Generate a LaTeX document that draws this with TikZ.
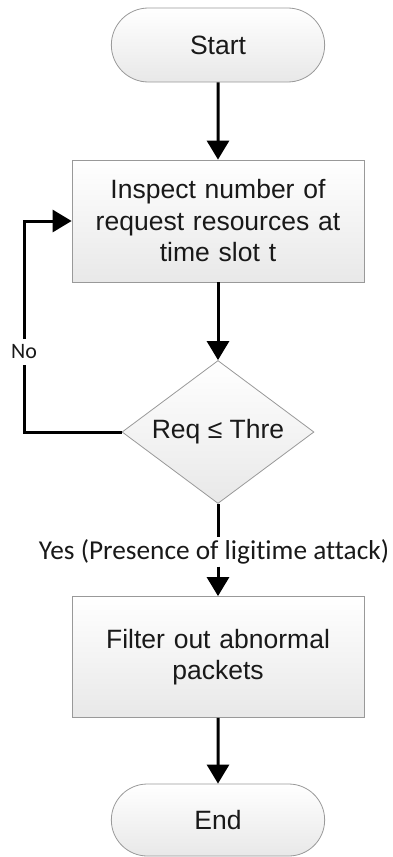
\documentclass[tikz,border=0pt]{standalone}
\usepackage{fontspec}
\setmainfont{Liberation Sans}
\newfontfamily\labelfont[Ligatures=CommonOff]{Carlito}
\usetikzlibrary{positioning}
\usetikzlibrary{shapes.misc}
\usetikzlibrary{shapes.geometric}
\usetikzlibrary{arrows.meta}
\tikzset{
    box/.style = {draw=gray!80, line width=0.8pt, top color=white, bottom color=gray!18, text=black!90,
        font=\fontsize{26.5}{31.5}\selectfont, align=center},
    terminal/.style = {box, rounded rectangle, minimum width=220pt, minimum height=74pt},
    process/.style = {box, rectangle, minimum width=292pt, minimum height=122pt, text width=280pt},
    decision/.style = {box, diamond, aspect=1.34, minimum width=192pt, minimum height=143pt, inner sep=0pt},
    edge/.style = {line width=3pt},
    flow/.style = {edge, -{Triangle[width=22pt,length=19pt]}},
    tag/.style = {text=black!90, inner sep=2pt}}

\begin{document}
\begin{tikzpicture}[x=1pt,y=-1pt]
        \useasboundingbox (0,0) rectangle (392,857);
        \path (218,45) node[terminal] (start) {Start}
        ++ (0,176) node[process] (inspect) {Inspect number of\\request resources at\\time slot t}
        ++ (0,211) node[decision] (check) {Req ≤ Thre}
        ++ (-4,120) node[tag, font=\labelfont\fontsize{27.3}{30}\selectfont] (yes) {Yes (Presence of ligitime attack)}
        ++ (4,105) node[process, minimum height=121pt] (filter) {Filter out abnormal\\packets}
        ++ (0,163) node[terminal, minimum height=72pt] (end) {End};
        \path (24,352) node[tag, inner sep=6pt, font=\labelfont\fontsize{22}{24}\selectfont] (no) {No};
        \draw[flow] (start) -- (inspect);
        \draw[flow] (inspect) -- (check);
        \draw[edge] (check.west) -| (no.south);
        \draw[flow] (no.north) |- (inspect.west);
        \draw[edge] (check) -- (check |- yes.north);
        \draw[flow] (check |- yes.south) -- (filter);
        \draw[flow] (filter) -- (end);
    \end{tikzpicture}
\end{document}
